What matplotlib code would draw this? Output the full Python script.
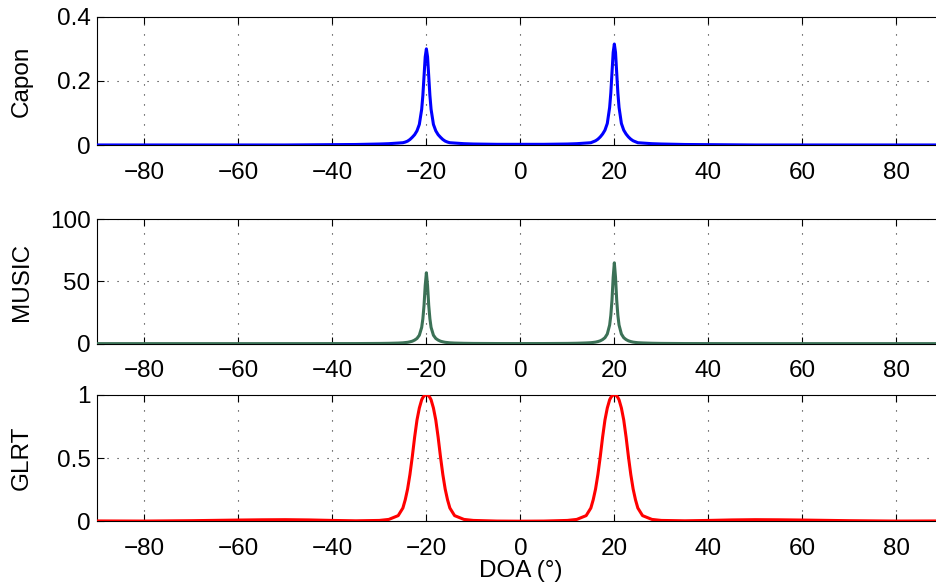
import matplotlib
matplotlib.use('Agg')
import matplotlib.pyplot as plt

plt.rcParams['font.family'] = ['Liberation Sans', 'DejaVu Sans']
plt.rcParams['font.size'] = 17.5

# DOA grid (degrees)
doa = [-90, -80, -70, -60, -55, -50, -45, -40, -35, -30,
       -28, -26, -25, -24.5, -24, -23.5, -23, -22.5, -22, -21.5,
       -21, -20.75, -20.5, -20.25, -20, -19.75, -19.5, -19.25, -19, -18.5,
       -18, -17.5, -17, -16.5, -16, -15.5, -15, -14, -12, -10,
       -5, 0, 5,
       10, 12, 14, 15, 15.5, 16, 16.5, 17, 17.5, 18,
       18.5, 19, 19.25, 19.5, 19.75, 20, 20.25, 20.5, 20.75, 21,
       21.5, 22, 22.5, 23, 23.5, 24, 24.5, 25, 26, 28,
       30, 35, 40, 45, 50, 55, 60, 70, 80, 90]

capon = [0.001, 0.001, 0.001, 0.001, 0.001, 0.001, 0.0015, 0.002, 0.0025, 0.004,
         0.005, 0.007, 0.008, 0.010, 0.013, 0.018, 0.025, 0.033, 0.045, 0.065,
         0.112, 0.155, 0.215, 0.275, 0.300, 0.275, 0.215, 0.155, 0.112, 0.065,
         0.045, 0.033, 0.025, 0.018, 0.013, 0.010, 0.008, 0.007, 0.005, 0.004,
         0.003, 0.003, 0.003,
         0.004, 0.005, 0.007, 0.008, 0.011, 0.014, 0.019, 0.026, 0.035, 0.047,
         0.068, 0.118, 0.163, 0.226, 0.289, 0.315, 0.289, 0.226, 0.163, 0.118,
         0.068, 0.047, 0.035, 0.026, 0.019, 0.014, 0.011, 0.008, 0.007, 0.005,
         0.004, 0.0025, 0.002, 0.0015, 0.001, 0.001, 0.001, 0.001, 0.001, 0.001]

music = [0.05, 0.05, 0.05, 0.05, 0.05, 0.06, 0.06, 0.08, 0.1, 0.2,
         0.3, 0.5, 0.7, 0.9, 1.1, 1.5, 2.0, 2.9, 4.2, 6.8,
         13.1, 20, 30.8, 46.7, 57, 46.7, 30.8, 20, 13.1, 6.8,
         4.2, 2.9, 2.0, 1.5, 1.1, 0.9, 0.7, 0.5, 0.3, 0.2,
         0.12, 0.1, 0.12,
         0.22, 0.35, 0.6, 0.8, 1.0, 1.25, 1.7, 2.3, 3.3, 4.8,
         7.8, 15, 22.8, 35.1, 53.3, 65, 53.3, 35.1, 22.8, 15,
         7.8, 4.8, 3.3, 2.3, 1.7, 1.25, 1.0, 0.8, 0.6, 0.35,
         0.22, 0.11, 0.08, 0.06, 0.06, 0.05, 0.05, 0.05, 0.05, 0.05]

glrt = [0.003, 0.002, 0.005, 0.010, 0.012, 0.013, 0.011, 0.007, 0.004, 0.007,
        0.015, 0.045, 0.105, 0.17, 0.255, 0.37, 0.51, 0.665, 0.80, 0.895,
        0.96, 0.978, 0.99, 0.998, 1.0, 0.998, 0.99, 0.978, 0.96, 0.895,
        0.80, 0.665, 0.51, 0.37, 0.255, 0.17, 0.105, 0.045, 0.015, 0.007,
        0.002, 0.001, 0.002,
        0.007, 0.015, 0.045, 0.105, 0.17, 0.255, 0.37, 0.51, 0.665, 0.80,
        0.895, 0.96, 0.978, 0.99, 0.998, 1.0, 0.998, 0.99, 0.978, 0.96,
        0.895, 0.80, 0.665, 0.51, 0.37, 0.255, 0.17, 0.105, 0.045, 0.015,
        0.007, 0.004, 0.007, 0.011, 0.013, 0.012, 0.010, 0.005, 0.002, 0.003]

xticks = [-80, -60, -40, -20, 0, 20, 40, 60, 80]

panels = [
    ("Capon", capon, '#0000ff', [0, 0.2, 0.4], ['0', '0.2', '0.4'], 0.4),
    ("MUSIC", music, '#3b7156', [0, 50, 100], ['0', '50', '100'], 100),
    ("GLRT", glrt, '#ff0000', [0, 0.5, 1], ['0', '0.5', '1'], 1),
]

# axes boxes in figure fraction (right edge runs past the image, as in the original)
positions = [
    [0.104, 0.7529, 0.9027, 0.2187],
    [0.104, 0.4155, 0.9027, 0.2116],
    [0.104, 0.1134, 0.9027, 0.2153],
]

fig = plt.figure(figsize=(9.37, 5.88), dpi=100)

for (name, vals, color, yt, ytl, ymax), pos in zip(panels, positions):
    ax = fig.add_axes(pos)
    ax.plot(doa, vals, color=color, lw=2.2, solid_joinstyle='round', zorder=3)
    ax.set_xlim(-90, 90)
    ax.set_ylim(0, ymax)
    ax.set_xticks(xticks)
    ax.set_xticklabels([str(t).replace('-', '\u2212') for t in xticks])
    ax.set_yticks(yt)
    ax.set_yticklabels(ytl)
    ax.grid(True, color='0.15', linestyle=(0, (1, 8)), linewidth=0.8)
    ax.tick_params(direction='in', top=True, right=True, length=5, width=0.8)
    ax.tick_params(axis='x', pad=12)
    ax.tick_params(axis='y', pad=5)
    for s in ax.spines.values():
        s.set_linewidth(0.8)
    ax.set_ylabel(name)
    ax.yaxis.set_label_coords(-0.076, 0.5)

ax.set_xlabel('DOA (\u00b0)', labelpad=0)

fig.savefig('out.png', dpi=100)
